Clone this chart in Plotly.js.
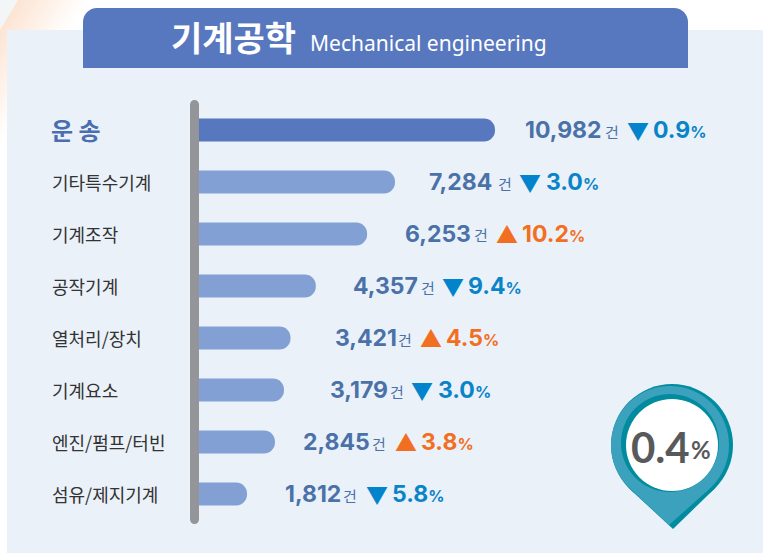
<!DOCTYPE html>
<html><head><meta charset="utf-8">
<script src="https://cdn.plot.ly/plotly-3.0.1.min.js"></script>
<style>html,body{margin:0;padding:0;background:#fff;overflow:hidden}
#c{width:769px;height:553px;background:linear-gradient(121deg,#f3f6f6 15px,#fde4d3 16px,#fff 75px)}</style>
</head><body><div id="c"></div>
<script>
const categories=['운 송','기타특수기계','기계조작','공작기계','열처리/장치','기계요소','엔진/펌프/터빈','섬유/제지기계'];
const values=[10982,7284,6253,4357,3421,3179,2845,1812];
const changes=[-0.9,-3.0,10.2,-9.4,4.5,-3.0,3.8,-5.8];
const totalChange='0.4';
const titleKo='기계공학';
const titleEn='Mechanical engineering';
const unit='건';

const W=769,H=553;
const px=x=>x/W, py=y=>1-y/H;
const KR='"Noto Sans CJK KR"', NUM='Inter, "Noto Sans CJK KR"';
const rowTop=104,rowH=52,plotL=198;
const pxPerUnit=297/10982;
const labelLeft=[524,428,404,352,334,329,302,284];
const unitLeft=[604,497,473,420,397,389,371,342];
const markLeft=[626,518,495,441,419,410,394,365];
const pctLeft=[652,545,521,467,445,437,420,391];

function rect(x0,y0,x1,y1,c){return {type:'rect',xref:'paper',yref:'paper',x0:px(x0),x1:px(x1),y0:py(y0),y1:py(y1),fillcolor:c,line:{width:0},layer:'below'};}
function circ(cx,cy,r,c,layer){return {type:'circle',xref:'paper',yref:'paper',x0:px(cx-r),x1:px(cx+r),y0:py(cy-r),y1:py(cy+r),fillcolor:c,line:{width:0},layer:layer||'above'};}
function poly(pts,c,layer){return {type:'path',xref:'paper',yref:'paper',path:'M'+pts.map(p=>px(p[0])+','+py(p[1])).join('L')+'Z',fillcolor:c,line:{width:0},layer:layer||'above'};}
function pinTail(cx,cy,r,tx,ty){
  const dx=tx-cx,dy=ty-cy,d=Math.hypot(dx,dy),a=Math.atan2(dy,dx),b=Math.acos(r/d);
  return [[cx+r*Math.cos(a+b),cy+r*Math.sin(a+b)],[tx,ty],[cx+r*Math.cos(a-b),cy+r*Math.sin(a-b)],[cx,cy]];
}
function roundTop(x0,y0,x1,y1,r,c){
  const k=0.45*r;
  const P=(x,y)=>px(x)+','+py(y);
  return {type:'path',xref:'paper',yref:'paper',layer:'below',fillcolor:c,line:{width:0},
    path:`M${P(x0,y1)}L${P(x0,y0+r)}C${P(x0,y0+k)} ${P(x0+k,y0)} ${P(x0+r,y0)}L${P(x1-r,y0)}C${P(x1-k,y0)} ${P(x1,y0+k)} ${P(x1,y0+r)}L${P(x1,y1)}Z`};
}
function roundAll(x0,y0,x1,y1,r,c){
  const k=0.45*r;
  const P=(x,y)=>px(x)+','+py(y);
  return {type:'path',xref:'paper',yref:'paper',layer:'above',fillcolor:c,line:{width:0},
    path:`M${P(x0,y1-r)}L${P(x0,y0+r)}C${P(x0,y0+k)} ${P(x0+k,y0)} ${P(x0+r,y0)}C${P(x1-k,y0)} ${P(x1,y0+k)} ${P(x1,y0+r)}L${P(x1,y1-r)}C${P(x1,y1-k)} ${P(x1-k,y1)} ${P(x1-r,y1)}C${P(x0+k,y1)} ${P(x0,y1-k)} ${P(x0,y1-r)}Z`};
}
const DARK='#008c9e',LIGHT='#3ba1bc';
const shapes=[
  rect(7,30,763,553,'#eaf1f9'),
  roundTop(83,8,688,68,14,'#5778be'),
  roundAll(190,100,199,524,4.5,'#939598'),
  poly(pinTail(672,445,61,673,529),DARK),circ(672,445,61,DARK),
  poly(pinTail(670,445,59,669,525),LIGHT),circ(670,445,59,LIGHT),
  circ(670,443,49,DARK),circ(672,445,46,'#ffffff')
];
function T(x,y,text,size,color,anchor,fam){return {xref:'paper',yref:'paper',x:px(x),y:py(y),text,showarrow:false,xanchor:anchor||'left',yanchor:'middle',align:'left',font:{family:fam||KR,size,color},borderpad:0};}
const ann=[
  T(170,37,'<b>'+titleKo+'</b>',34,'#ffffff'),
  T(309,43,titleEn,21,'#ffffff','left','"Noto Sans"'),
  T(691,447,'<b>'+totalChange+'</b>',42,'#58595b','right','Lato'),
  T(690,449,'<b>%</b>',24,'#58595b','left','Lato')
];
categories.forEach((c,i)=>{
  const y=rowTop+rowH*(i+0.5);
  ann.push(T(i==0?50:51,y-1+(i==0?0:1),i==0?'<b>'+c+'</b>':c,i==0?24:18,i==0?'#4a6fb0':'#333333'));
  const up=changes[i]>0,col=up?'#f26f21':'#0a84c9';
  ann.push(T(labelLeft[i],y,'<b>'+values[i].toLocaleString('en-US')+'</b>',23,'#4a71a8','left',NUM));
  ann.push(T(unitLeft[i],y+1,unit,15,'#4a71a8'));
  ann.push(T(markLeft[i],y-1,up?'▲':'▼',22,up?'#f26f21':'#0284cc','left',KR));
  const a=Math.abs(changes[i]).toFixed(1);
  ann.push(T(pctLeft[i],y,'<b>'+a+'</b><span style="font-size:16px"><b>%</b></span>',23,col,'left',NUM));
});
const trace={type:'bar',orientation:'h',y:categories,x:values,
  marker:{color:categories.map((c,i)=>i==0?'#5778be':'#82a0d3'),cornerradius:11.5,line:{width:0}},
  width:23/52,hoverinfo:'skip'};
Plotly.newPlot('c',[trace],{
  width:W,height:H,margin:{l:0,r:0,t:0,b:0},showlegend:false,
  paper_bgcolor:'rgba(0,0,0,0)',plot_bgcolor:'rgba(0,0,0,0)',
  xaxis:{domain:[px(plotL),1],range:[0,(W-plotL)/pxPerUnit],visible:false,fixedrange:true},
  yaxis:{domain:[py(rowTop+rowH*8),py(rowTop)],type:'category',categoryorder:'array',categoryarray:categories,autorange:false,range:[7.5,-0.5],visible:false,fixedrange:true},
  shapes,annotations:ann
},{displayModeBar:false,staticPlot:true});
</script></body></html>
